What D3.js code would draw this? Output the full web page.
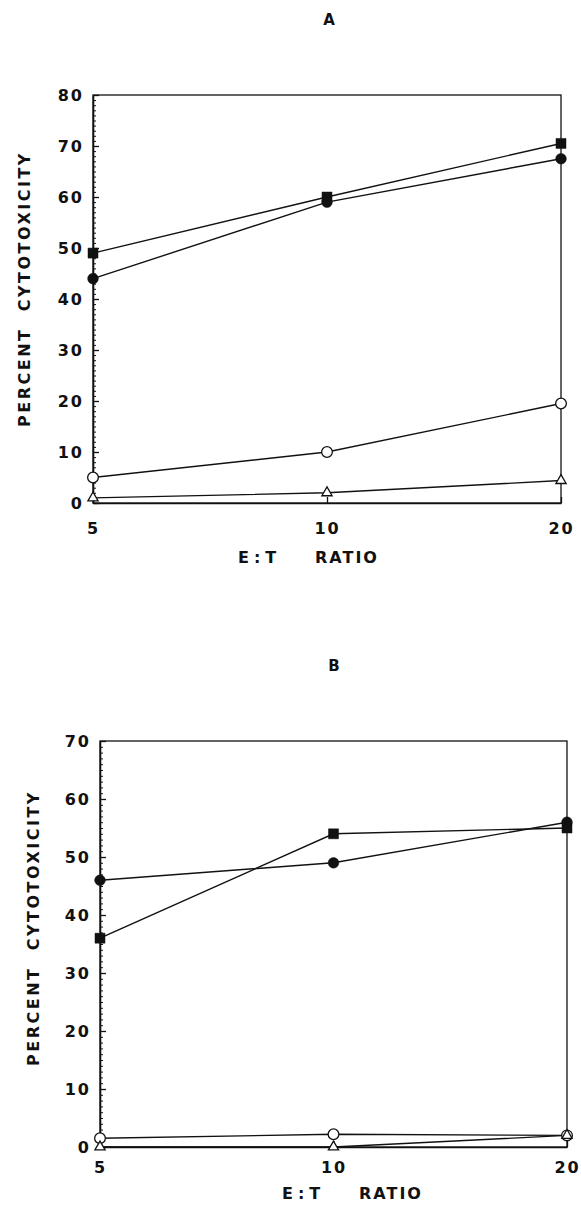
<!DOCTYPE html>
<html>
<head>
<meta charset="utf-8">
<script src="https://cdn.jsdelivr.net/npm/d3@7"></script>
<style>
  html, body { margin: 0; padding: 0; background: #fff; }
  svg { display: block; }
  text { font-family: "DejaVu Sans", "Liberation Sans", sans-serif; font-weight: bold; fill: #111; }
</style>
</head>
<body>
<div id="chart"></div>
<script>
// E:T ratios on the x axis (log spaced)
const ratios = [5, 10, 20];

// Panel A
const aSquareFilled = [49, 60, 70.5];
const aCircleFilled = [44, 59, 67.5];
const aCircleOpen = [5, 10, 19.5];
const aTriangleOpen = [1, 2, 4.4];
const aYTicks = [0, 10, 20, 30, 40, 50, 60, 70, 80];

// Panel B
const bSquareFilled = [36, 54, 55];
const bCircleFilled = [46, 49, 56];
const bCircleOpen = [1.5, 2.2, 2];
const bTriangleOpen = [0, 0, 2];
const bYTicks = [0, 10, 20, 30, 40, 50, 60, 70];

const width = 581, height = 1206;

const svg = d3.select("#chart").append("svg")
    .attr("width", width)
    .attr("height", height);

function drawPanel(opts) {
    const { box, yMax, yTicks, series, title, titlePos, xLabelPos, yLabelPos, xLabelPad } = opts;

    const x = d3.scaleLog()
        .domain([5, 20])
        .range([box.left, box.right]);

    const y = d3.scaleLinear()
        .domain([0, yMax])
        .range([box.bottom, box.top]);

    const g = svg.append("g");

    // frame (top + right)
    g.append("rect")
        .attr("x", box.left)
        .attr("y", box.top)
        .attr("width", box.right - box.left)
        .attr("height", box.bottom - box.top)
        .attr("fill", "none")
        .attr("stroke", "#111")
        .attr("stroke-width", 1.3);

    // minor y ticks, every 1 unit
    const minor = g.append("g")
        .attr("transform", `translate(${box.left},0)`)
        .call(d3.axisLeft(y).tickValues(d3.range(0, yMax + 1, 1)).tickSize(-3).tickFormat(""));
    minor.select(".domain").remove();
    minor.selectAll("line").attr("stroke", "#111").attr("stroke-width", 1);

    // major y ticks + labels
    const yAxis = g.append("g")
        .attr("transform", `translate(${box.left},0)`)
        .call(d3.axisLeft(y).tickValues(yTicks).tickSize(-6).tickSizeOuter(0).tickPadding(9));
    yAxis.select(".domain").attr("stroke", "#111").attr("stroke-width", 1.6);
    yAxis.selectAll("line").attr("stroke", "#111").attr("stroke-width", 1.3);
    yAxis.selectAll("text")
        .style("font-size", "16px")
        .style("letter-spacing", "2px")
        .style("font-family", "'DejaVu Sans', sans-serif")
        .style("font-weight", "bold")
        .attr("fill", "#111");

    // x axis
    const xAxis = g.append("g")
        .attr("transform", `translate(0,${box.bottom})`)
        .call(d3.axisBottom(x).tickValues(ratios).tickFormat(d3.format("d")).tickSize(-6).tickSizeOuter(0).tickPadding(xLabelPad));
    xAxis.select(".domain").attr("stroke", "#111").attr("stroke-width", 1.6);
    xAxis.selectAll("line").attr("stroke", "#111").attr("stroke-width", 1.3);
    xAxis.selectAll("text")
        .style("font-size", "16px")
        .style("letter-spacing", "2px")
        .style("font-family", "'DejaVu Sans', sans-serif")
        .style("font-weight", "bold")
        .attr("fill", "#111");

    // lines
    const line = d3.line()
        .x((d, i) => x(ratios[i]))
        .y(d => y(d));

    series.forEach(s => {
        g.append("path")
            .datum(s.values)
            .attr("d", line)
            .attr("fill", "none")
            .attr("stroke", "#111")
            .attr("stroke-width", 1.4);
    });

    // markers
    series.forEach(s => {
        g.selectAll(null)
            .data(s.values)
            .enter()
            .append("path")
            .attr("transform", (d, i) => `translate(${x(ratios[i])},${y(d)})`)
            .attr("d", d3.symbol().type(s.symbol).size(s.size))
            .attr("fill", s.filled ? "#111" : "#fff")
            .attr("stroke", "#111")
            .attr("stroke-width", s.filled ? 0.5 : 1.3);
    });

    // panel title
    svg.append("text")
        .attr("x", titlePos[0])
        .attr("y", titlePos[1])
        .attr("text-anchor", "middle")
        .style("font-size", "15px")
        .text(title);

    // x axis title
    const xt = svg.append("text")
        .attr("x", xLabelPos[0])
        .attr("y", xLabelPos[1])
        .style("font-size", "16px");
    xt.append("tspan").style("letter-spacing", "5px").text("E:T");
    xt.append("tspan").attr("x", xLabelPos[0] + 77).style("letter-spacing", "2px").text("RATIO");

    // y axis title
    svg.append("text")
        .attr("transform", `translate(${yLabelPos[0]},${yLabelPos[1]}) rotate(-90)`)
        .attr("text-anchor", "middle")
        .style("font-size", "16px")
        .style("letter-spacing", "2.5px")
        .style("white-space", "pre")
        .text("PERCENT  CYTOTOXICITY");
}

const symSquare = d3.symbolSquare, symCircle = d3.symbolCircle, symTri = d3.symbolTriangle;

drawPanel({
    box: { left: 93, right: 561, top: 95, bottom: 503 },
    yMax: 80,
    yTicks: aYTicks,
    series: [
        { values: aSquareFilled, symbol: symSquare, size: 100, filled: true },
        { values: aCircleFilled, symbol: symCircle, size: 90, filled: true },
        { values: aCircleOpen, symbol: symCircle, size: 90, filled: false },
        { values: aTriangleOpen, symbol: symTri, size: 45, filled: false }
    ],
    title: "A",
    titlePos: [329, 25],
    xLabelPos: [238, 563],
    yLabelPos: [30, 289],
    xLabelPad: 20
});

drawPanel({
    box: { left: 100, right: 567, top: 741, bottom: 1147 },
    yMax: 70,
    yTicks: bYTicks,
    series: [
        { values: bSquareFilled, symbol: symSquare, size: 100, filled: true },
        { values: bCircleFilled, symbol: symCircle, size: 90, filled: true },
        { values: bCircleOpen, symbol: symCircle, size: 90, filled: false },
        { values: bTriangleOpen, symbol: symTri, size: 45, filled: false }
    ],
    title: "B",
    titlePos: [334, 671],
    xLabelPos: [282, 1199],
    yLabelPos: [39, 928],
    xLabelPad: 15
});
</script>
</body>
</html>
